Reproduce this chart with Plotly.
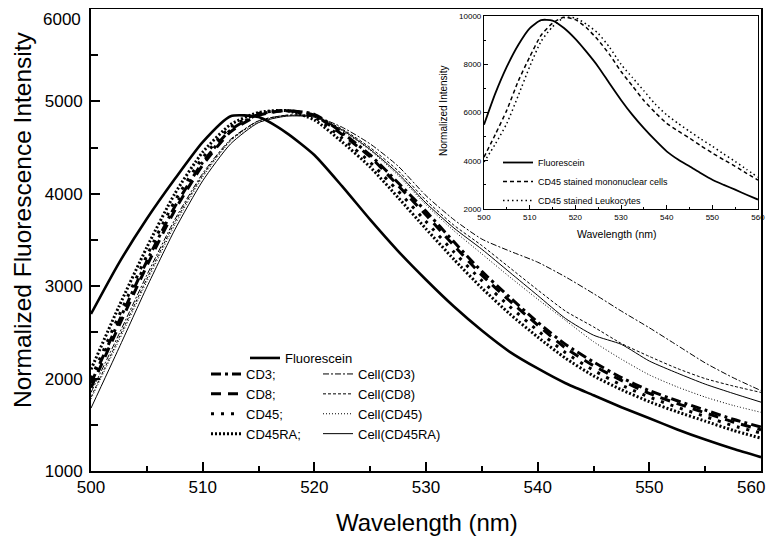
import plotly.graph_objects as go

# ---------------- data ----------------
wl = [500, 502.5, 505, 507.5, 510, 512.5, 515, 517.5, 520, 522.5, 525, 527.5, 530,
      532.5, 535, 537.5, 540, 542.5, 545, 547.5, 550, 552.5, 555, 557.5, 560]

fluorescein = [2700, 3250, 3730, 4160, 4560, 4840, 4830, 4660, 4420, 4080, 3720, 3380, 3070,
               2780, 2520, 2290, 2110, 1950, 1820, 1690, 1570, 1450, 1340, 1240, 1150]

cd3 = [1950, 2620, 3270, 3860, 4340, 4690, 4860, 4900, 4860, 4660, 4420, 4120, 3810,
       3480, 3160, 2880, 2610, 2370, 2180, 2010, 1870, 1760, 1660, 1560, 1475]
cd8 = [1900, 2570, 3220, 3820, 4310, 4670, 4850, 4900, 4850, 4640, 4400, 4090, 3770,
       3440, 3120, 2840, 2580, 2330, 2140, 1980, 1840, 1730, 1630, 1530, 1445]
cd45 = [2000, 2680, 3330, 3920, 4390, 4720, 4870, 4900, 4830, 4600, 4340, 4030, 3700,
        3370, 3060, 2780, 2520, 2280, 2090, 1930, 1800, 1690, 1590, 1490, 1410]
cd45ra = [2100, 2780, 3420, 4000, 4450, 4750, 4880, 4900, 4800, 4560, 4290, 3960, 3620,
          3290, 2980, 2700, 2450, 2220, 2030, 1880, 1750, 1640, 1540, 1440, 1355]

cell_cd3 = [1850, 2480, 3120, 3720, 4220, 4590, 4790, 4850, 4840, 4720, 4540, 4300, 3980,
            3720, 3510, 3380, 3260, 3100, 2920, 2730, 2550, 2360, 2170, 2010, 1870]
cell_cd8 = [1800, 2440, 3080, 3690, 4200, 4580, 4790, 4850, 4840, 4700, 4500, 4250, 3930,
            3660, 3440, 3200, 2960, 2730, 2560, 2380, 2240, 2110, 2000, 1920, 1850]
cell_cd45 = [1780, 2410, 3050, 3660, 4180, 4570, 4780, 4845, 4830, 4680, 4470, 4200, 3880,
             3600, 3350, 3100, 2860, 2630, 2400, 2210, 2040, 1910, 1800, 1710, 1635]
cell_cd45ra = [1680, 2330, 2990, 3610, 4140, 4540, 4770, 4840, 4830, 4690, 4480, 4220, 3900,
               3630, 3400, 3150, 2900, 2650, 2470, 2370, 2190, 2060, 1940, 1840, 1745]

# inset
inset_fluorescein = [5490, 6800, 7900, 8800, 9490, 9830, 9810, 9500, 9050, 8500, 7900, 7200, 6520,
                     5900, 5350, 4850, 4390, 4050, 3770, 3480, 3210, 3000, 2800, 2590, 2390]
inset_mononuclear = [4150, 5100, 6100, 7300, 8300, 9200, 9700, 9950, 9850, 9500, 9000, 8400, 7700,
                     7100, 6500, 6000, 5550, 5230, 4940, 4620, 4320, 4040, 3770, 3480, 3200]
inset_leukocytes = [3950, 4700, 5550, 6700, 7900, 8950, 9550, 9930, 9920, 9650, 9280, 8700, 8000,
                    7450, 6900, 6350, 5900, 5550, 5220, 4900, 4600, 4280, 3970, 3640, 3320]

x_ticks = [500, 510, 520, 530, 540, 550, 560]
y_ticks = [1000, 2000, 3000, 4000, 5000, 6000]
inset_y_ticks = [2000, 4000, 6000, 8000, 10000]

FONT = "Arial, 'Liberation Sans', sans-serif"

fig = go.Figure()

def add(y, name, width, dash, legend, xa="x", ya="y"):
    fig.add_trace(go.Scatter(
        x=wl, y=y, name=name, mode="lines", xaxis=xa, yaxis=ya,
        line=dict(color="black", width=width, dash=dash, shape="spline", smoothing=0.6),
        legend=legend, hoverinfo="skip"))

add(fluorescein, "Fluorescein", 2.6, "solid", "legend")
add(cd3, "CD3;", 3, "10px,4px,3px,4px", "legend2")
add(cd8, "CD8;", 3, "10px,7px", "legend2")
add(cd45, "CD45;", 3, "3px,7px", "legend2")
add(cd45ra, "CD45RA;", 3, "2px,2px", "legend2")
add(cell_cd3, "Cell(CD3)", 1, "6px,2px,2px,2px", "legend3")
add(cell_cd8, "Cell(CD8)", 1, "3px,2px", "legend3")
add(cell_cd45, "Cell(CD45)", 1, "1px,2px", "legend3")
add(cell_cd45ra, "Cell(CD45RA)", 1, "solid", "legend3")

add(inset_fluorescein, "Fluorescein", 1.8, "solid", "legend4", "x2", "y2")
add(inset_mononuclear, "CD45 stained mononuclear cells", 1.5, "4px,3px", "legend4", "x2", "y2")
add(inset_leukocytes, "CD45 stained Leukocytes", 1.5, "1.5px,3px", "legend4", "x2", "y2")

# page-pixel -> paper helpers (page has an 8px body margin; plot area page x 91..761, y 9..471)
def px(x):
    return (x - 91) / 670.0

def py(y):
    return (471 - y) / 462.0

axis_common = dict(showgrid=False, zeroline=False, showline=True, linecolor="black",
                   mirror=True, ticks="inside", tickcolor="black", automargin=False,
                   ticklabeloverflow="allow")

leg_common = dict(bgcolor="rgba(0,0,0,0)", borderwidth=0, xanchor="left", yanchor="top",
                  font=dict(family=FONT, size=13, color="black"), tracegroupgap=0)

# outermost labels are drawn as annotations so they are not clipped by the page edge
y_tick_text = [str(v) if v != y_ticks[-1] else "" for v in y_ticks]
x_tick_text = [str(v) if v != x_ticks[-1] else "" for v in x_ticks]

ann_common = dict(xref="paper", yref="paper", showarrow=False, xanchor="center", yanchor="middle")

fig.update_layout(
    width=760, height=529,
    margin=dict(l=83, r=7, t=1, b=66, autoexpand=False),
    paper_bgcolor="white", plot_bgcolor="white",
    font=dict(family=FONT, color="black"),
    xaxis=dict(range=[500, 560], tickvals=x_ticks, ticktext=x_tick_text, linewidth=2, ticklen=9,
               tickwidth=1.5, tickfont=dict(size=17),
               minor=dict(dtick=5, ticklen=5, ticks="inside", tickcolor="black"),
               **axis_common),
    yaxis=dict(range=[1000, 6000], tickvals=y_ticks, ticktext=y_tick_text, linewidth=2, ticklen=9,
               tickwidth=1.5, tickfont=dict(size=17),
               minor=dict(dtick=500, ticklen=7, ticks="inside", tickcolor="black"),
               ticklabelstandoff=3, **axis_common),
    xaxis2=dict(domain=[px(484), px(758)], anchor="y2", range=[500, 560], tickvals=x_ticks,
                linewidth=1.2, ticklen=4, tickfont=dict(size=8),
                minor=dict(dtick=5, ticklen=2, ticks="inside", tickcolor="black"), **axis_common),
    yaxis2=dict(domain=[py(209), py(16)], anchor="x2", range=[2000, 10000], tickvals=inset_y_ticks,
                tickformat="d", linewidth=1.2, ticklen=4, tickfont=dict(size=8),
                minor=dict(dtick=1000, ticklen=2, ticks="inside", tickcolor="black"), **axis_common),
    legend=dict(x=px(245), y=py(343), **leg_common),
    legend2=dict(x=px(206), y=py(359), **leg_common),
    legend3=dict(x=px(318), y=py(359), **leg_common),
    legend4=dict(x=px(498), y=py(148), **{**leg_common, "font": dict(family=FONT, size=9, color="black")}),
    showlegend=True,
    annotations=[
        dict(text=str(y_ticks[-1]), x=0, xref="paper", xanchor="right", xshift=-8,
             y=y_ticks[-1], yref="y", yanchor="top", yshift=1, showarrow=False, font=dict(size=17)),
        dict(text=str(x_ticks[-1]), x=x_ticks[-1], xref="x", xanchor="right", xshift=6,
             y=0, yref="paper", yanchor="top", yshift=-5, showarrow=False, font=dict(size=17)),
        dict(text="Normalized Fluorescence Intensity", x=px(22), y=py(220),
             textangle=-90, font=dict(size=24.5), **ann_common),
        dict(text="Wavelength (nm)", x=px(427), y=py(522), font=dict(size=24), **ann_common),
        dict(text="Normalized Intensity", x=px(444), y=py(111), textangle=-90,
             font=dict(size=10), **ann_common),
        dict(text="Wavelength (nm)", x=px(617), y=py(234), font=dict(size=10.5), **ann_common),
    ],
)

fig.write_html("out.html")
